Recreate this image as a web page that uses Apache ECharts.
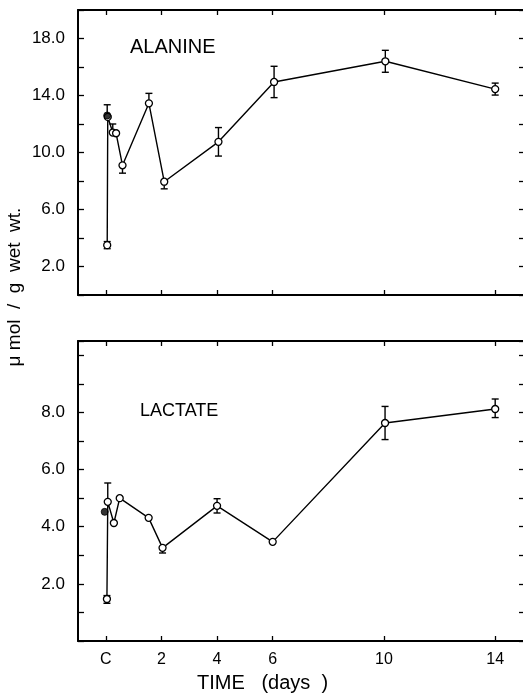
<!DOCTYPE html>
<html><head><meta charset="utf-8">
<script src="https://cdn.jsdelivr.net/npm/echarts@6/dist/echarts.min.js"></script>
<style>html,body{margin:0;padding:0;background:#fff}#c{width:523px;height:694px}</style>
</head><body><div id="c"></div>
<script>
// ---- data ----
const xTickDays = [0, 2, 4, 6, 10, 14];
const xTickLabels = ['C', '2', '4', '6', '10', '14'];

const alaYTicks = [2, 6, 10, 14, 18];
const lacYTicks = [2, 4, 6, 8];

// ALANINE (treated, open circles)
const alaDays    = [0.05, 0.07, 0.25, 0.37, 0.6, 1.55, 2.1, 4.05, 6.05, 10.05, 14];
const alaValues  = [3.5, 12.5, 11.4, 11.35, 9.1, 13.45, 7.95, 10.75, 14.95, 16.4, 14.45];
const alaErrUp   = [0.25, 0, 0.6, 0, 0, 0.7, 0, 1.0, 1.1, 0.77, 0.42];
const alaErrDown = [0.25, 0, 0, 0, 0.55, 0, 0.5, 1.0, 1.1, 0.77, 0.42];
// ALANINE control (filled circle)
const alaCtrlDays = [0.05];
const alaCtrlValues = [12.6];
const alaCtrlErrUp = [0.75];
const alaCtrlErrDown = [0];

// LACTATE (treated, open circles)
const lacDays    = [0.04, 0.07, 0.29, 0.5, 1.54, 2.04, 4.0, 6.0, 10.04, 14];
const lacValues  = [1.47, 4.87, 4.13, 5.0, 4.31, 3.26, 4.73, 3.47, 7.63, 8.12];
const lacErrUp   = [0.12, 0.66, 0, 0, 0, 0, 0.25, 0, 0.58, 0.35];
const lacErrDown = [0.15, 0, 0, 0, 0, 0.18, 0.25, 0, 0.58, 0.3];
// LACTATE control (filled circle)
const lacCtrlDays = [-0.04];
const lacCtrlValues = [4.52];
const lacCtrlErrUp = [0];
const lacCtrlErrDown = [0];

// ---- chart ----
const FONT = 'Liberation Sans';
const zip = (xs, ys) => xs.map((x, i) => [x, ys[i]]);
const errData = (xs, ys, up, dn) => xs.map((x, i) => [x, ys[i], up[i], dn[i]]);

function errRender(params, api) {
  const x = api.value(0), y = api.value(1), up = api.value(2), dn = api.value(3);
  const children = [];
  const cap = 3.5;
  const st = {stroke: '#000', lineWidth: 1.4};
  if (up > 0) {
    const a = api.coord([x, y]), b = api.coord([x, y + up]);
    children.push({type: 'line', shape: {x1: a[0], y1: a[1], x2: b[0], y2: b[1]}, style: st});
    children.push({type: 'line', shape: {x1: b[0] - cap, y1: b[1], x2: b[0] + cap, y2: b[1]}, style: st});
  }
  if (dn > 0) {
    const a = api.coord([x, y]), b = api.coord([x, y - dn]);
    children.push({type: 'line', shape: {x1: a[0], y1: a[1], x2: b[0], y2: b[1]}, style: st});
    children.push({type: 'line', shape: {x1: b[0] - cap, y1: b[1], x2: b[0] + cap, y2: b[1]}, style: st});
  }
  return {type: 'group', children};
}

const grids = [
  {left: 78, top: 10, width: 447, height: 285},
  {left: 78, top: 341, width: 447, height: 300}
];

function xAx(gridIndex, position, showLabel) {
  return {
    type: 'value', gridIndex, position, min: -1, max: 15,
    axisLine: {show: true, onZero: false, lineStyle: {color: '#000', width: 2}},
    splitLine: {show: false},
    axisTick: {show: true, inside: true, length: 5, customValues: xTickDays, lineStyle: {color: '#000', width: 1.3}},
    axisLabel: {
      show: showLabel, customValues: xTickDays, margin: 11,
      color: '#000', fontFamily: FONT, fontSize: 16,
      formatter: v => { const i = xTickDays.indexOf(v); return i >= 0 ? xTickLabels[i] : ''; }
    }
  };
}

function yAx(gridIndex, position, max, interval, labelVals, showLabel) {
  return {
    type: 'value', gridIndex, position, min: 0, max, interval,
    axisLine: {show: position === 'left', onZero: false, lineStyle: {color: '#000', width: 2}},
    splitLine: {show: false},
    axisTick: {show: true, inside: true, length: position === 'left' ? 6 : 4, lineStyle: {color: '#000', width: 1.3}},
    axisLabel: {
      show: showLabel, customValues: labelVals, margin: 13,
      color: '#000', fontFamily: FONT, fontSize: 17,
      formatter: v => v.toFixed(1)
    }
  };
}

const lineStyle = {color: '#000', width: 1.4};
const openItem = {color: '#fff', borderColor: '#000', borderWidth: 1.3};
const filledItem = {color: '#000', borderColor: '#000', borderWidth: 1};

const option = {
  animation: false,
  backgroundColor: '#fff',
  grid: grids,
  xAxis: [xAx(0, 'bottom', false), xAx(0, 'top', false), xAx(1, 'bottom', true), xAx(1, 'top', false)],
  yAxis: [
    yAx(0, 'left', 20, 2, alaYTicks, true), yAx(0, 'right', 20, 2, [], false),
    yAx(1, 'left', 10.5, 1, lacYTicks, true), yAx(1, 'right', 10.5, 1, [], false)
  ],
  series: [
    {type: 'custom', xAxisIndex: 0, yAxisIndex: 0, renderItem: errRender, data: errData(alaDays, alaValues, alaErrUp, alaErrDown), z: 1},
    {type: 'custom', xAxisIndex: 0, yAxisIndex: 0, renderItem: errRender, data: errData(alaCtrlDays, alaCtrlValues, alaCtrlErrUp, alaCtrlErrDown), z: 1},
    {type: 'line', xAxisIndex: 0, yAxisIndex: 0, data: zip(alaDays, alaValues), symbol: 'circle', symbolSize: 7, showAllSymbol: true,
     lineStyle, itemStyle: openItem, z: 2},
    {type: 'scatter', xAxisIndex: 0, yAxisIndex: 0, data: zip(alaCtrlDays, alaCtrlValues), symbol: 'circle', symbolSize: 7,
     itemStyle: filledItem, z: 3},

    {type: 'custom', xAxisIndex: 2, yAxisIndex: 2, renderItem: errRender, data: errData(lacDays, lacValues, lacErrUp, lacErrDown), z: 1},
    {type: 'custom', xAxisIndex: 2, yAxisIndex: 2, renderItem: errRender, data: errData(lacCtrlDays, lacCtrlValues, lacCtrlErrUp, lacCtrlErrDown), z: 1},
    {type: 'line', xAxisIndex: 2, yAxisIndex: 2, data: zip(lacDays, lacValues), symbol: 'circle', symbolSize: 7, showAllSymbol: true,
     lineStyle, itemStyle: openItem, z: 2},
    {type: 'scatter', xAxisIndex: 2, yAxisIndex: 2, data: zip(lacCtrlDays, lacCtrlValues), symbol: 'circle', symbolSize: 7,
     itemStyle: filledItem, z: 3}
  ],
  graphic: [
    {type: 'text', left: 130, top: 37, style: {text: 'ALANINE', fill: '#000', font: '20px "Liberation Sans"'}},
    {type: 'text', left: 140, top: 402, style: {text: 'LACTATE', fill: '#000', font: '18px "Liberation Sans"'}},
    {type: 'text', left: 197, top: 673, style: {text: 'TIME   (days  )', fill: '#000', font: '20px "Liberation Sans"'}},
    {type: 'text', x: 15, y: 287, rotation: Math.PI / 2,
     style: {text: 'μ mol  /  g  wet  wt.', fill: '#000', font: '19px "Liberation Sans"', align: 'center', verticalAlign: 'middle'}}
  ]
};

const chart = echarts.init(document.getElementById('c'), null, {renderer: 'canvas'});
chart.setOption(option);
</script></body></html>
